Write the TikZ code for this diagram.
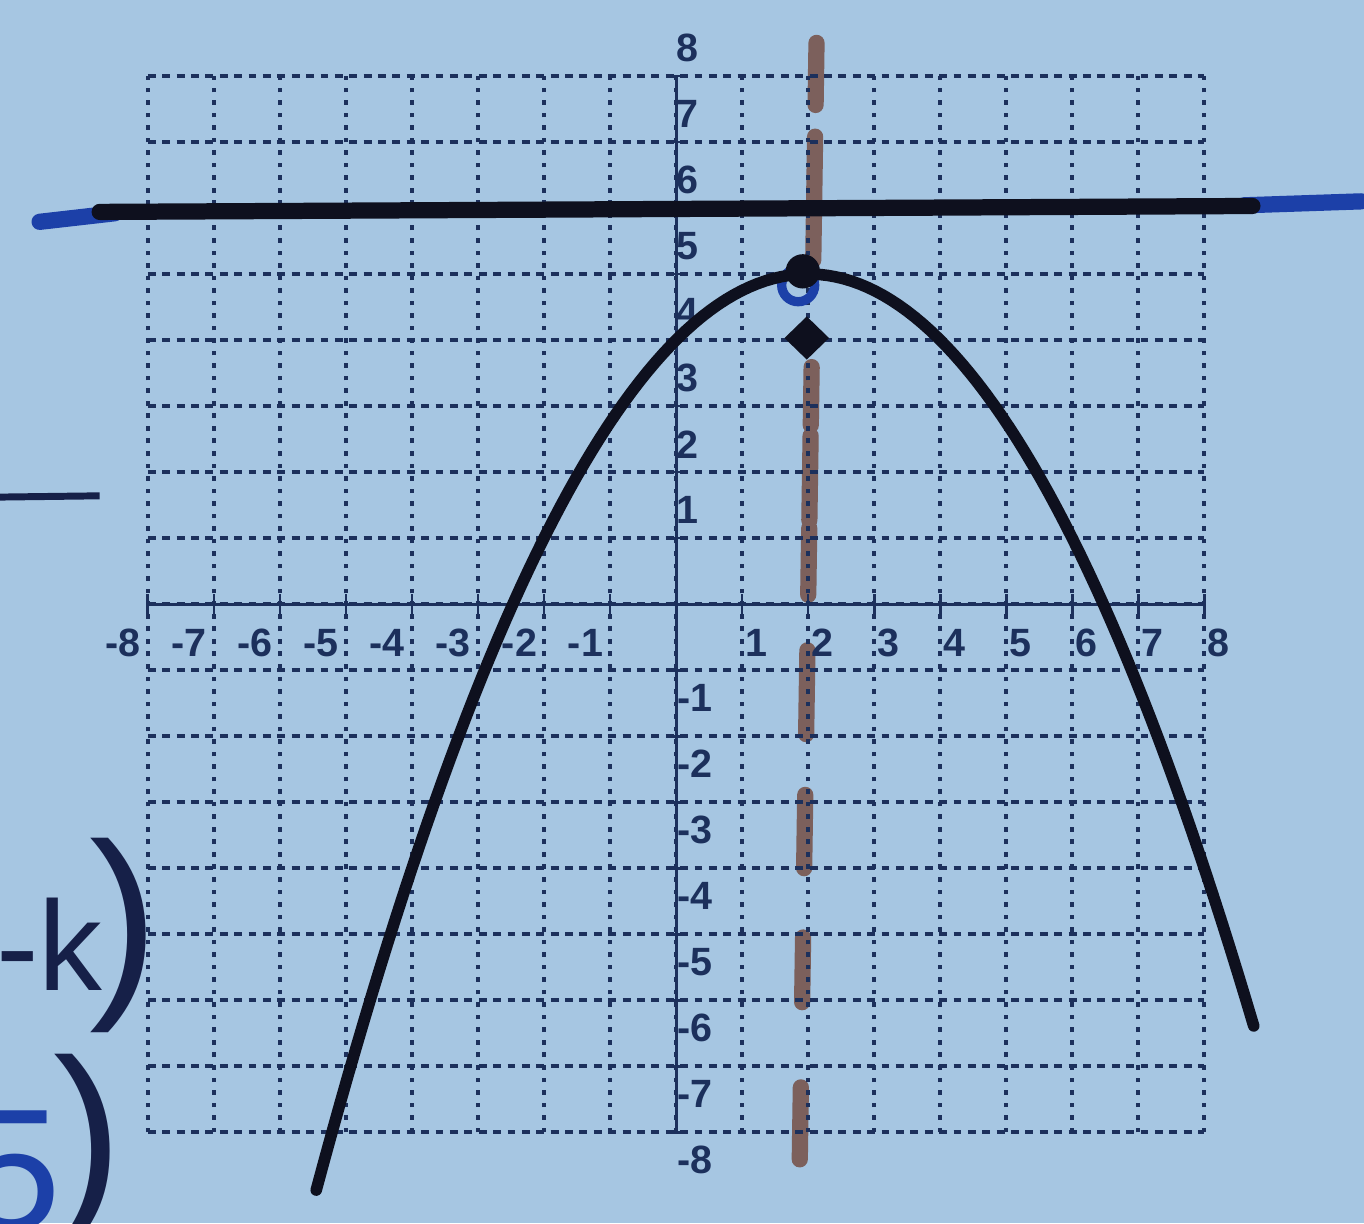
\documentclass[tikz,border=0pt]{standalone}
\usepackage{fontspec}
\setmainfont{Liberation Sans}
\usepackage{xcolor}
\usepackage{tikz}
\usetikzlibrary{shapes.geometric}
\definecolor{paper}{RGB}{166,198,226}
\definecolor{gridnavy}{RGB}{28,48,92}
\definecolor{ink}{RGB}{14,16,30}
\definecolor{penblue}{RGB}{28,64,168}
\definecolor{handnavy}{RGB}{22,32,72}
\definecolor{symbrown}{RGB}{124,96,92}
\tikzset{
  vgrid/.style={draw=gridnavy, line width=1.6pt, dash pattern=on 2pt off 3.4pt},
  hgrid/.style={draw=gridnavy, line width=1.6pt, dash pattern=on 3.4pt off 2.8pt},
  axisln/.style={draw=gridnavy, line width=1.3pt},
  tickln/.style={draw=gridnavy, line width=1.2pt},
  numlbl/.style={font=\fontsize{17}{17}\selectfont\bfseries, text=gridnavy, inner sep=0pt},
  curve/.style={draw=ink, line width=5pt, line cap=round},
  directrix/.style={draw=ink, line width=7pt, line cap=round},
  penline/.style={draw=penblue, line width=7pt, line cap=round},
  symaxis/.style={draw=symbrown, line width=7pt, line cap=round},
  focuspt/.style={diamond, fill=ink, minimum width=6.8mm, minimum height=6.6mm, inner sep=0pt},
  vertexpt/.style={circle, fill=ink, minimum size=5.2mm, inner sep=0pt},
  hand/.style={font=\fontsize{55}{55}\selectfont, text=handnavy, inner sep=0pt},
  handparen/.style={font=\fontsize{90}{90}\selectfont, text=handnavy, inner sep=0pt},
}

\begin{document}
\begin{tikzpicture}
% ---- paper ----
\fill[paper] (-10.24,-9.38) rectangle (10.42,9.15);
\useasboundingbox (-10.24,-9.38) rectangle (10.42,9.15);
% ---- axis of symmetry (pencil dashes) ----
\foreach \ya/\yb in {8.5/7.56, 7.08/5.21, 3.59/2.71, 2.55/1.27, 1.15/0.14,
    -0.7/-1.97, -2.89/-4.0, -5.05/-6.03, -7.32/-8.41}
  \draw[symaxis] ({2+0.015*\ya},\ya) -- ({2+0.015*\yb},\yb);
% ---- grid ----
\foreach \k in {-8,...,8} {
  \draw[vgrid] (\k,-8) -- (\k,8);
  \draw[hgrid] (-8,\k) -- (8,\k);
}
% ---- axes ----
\draw[axisln] (-8,0) -- (8,0);
\draw[axisln] (0,-8) -- (0,8);
\foreach \k in {1,...,8} {
  \draw[tickln] (\k,-0.15) -- (\k,0.15);
  \draw[tickln] (-\k,-0.15) -- (-\k,0.15);
  \draw[tickln] (-0.12,\k) -- (0.12,\k);
  \draw[tickln] (-0.12,-\k) -- (0.12,-\k);
  \node[numlbl, anchor=west] (xpos\k) at (\k+0.05,-0.59) {\k};
  \node[numlbl, anchor=east] (xneg\k) at (-\k-0.1,-0.59) {-\k};
  \node[numlbl, anchor=west] (ypos\k) at (0.0,\k+0.42) {\k};
  \node[numlbl, anchor=west] (yneg\k) at (0.02,-\k-0.42) {-\k};
}
% ---- directrix ----
\draw[penline] (-9.64,5.79) -- (-8.5,5.92);
\draw[penline] (8.6,6.04) -- (10.38,6.1);
\draw[directrix] (-8.73,5.94) -- (8.73,6.03);
% ---- parabola ----
\draw[penblue, line width=4pt] (1.85,4.83) circle (0.25);
\draw[curve] plot[domain=-5.45:8.75, samples=120] (\x,{5-(\x-2)^2/4});
\node[vertexpt] (vertex) at (1.92,5.04) {};
\node[focuspt] (focus) at (1.98,4.03) {};
% ---- margin notes ----
\draw[handnavy, line width=3pt] (-10.3,1.62) -- (-8.73,1.64);
\node[hand, anchor=base west] (kterm) at (-10.3,-5.85) {-k};
\node[handparen] (kparen) at (-8.36,-5.02) {)};
\node[hand, text=penblue, anchor=north east, font=\fontsize{75}{75}\selectfont] (fivenum) at (-9.3,-7.67) {5};
\node[handparen] (fiveparen) at (-8.91,-8.29) {)};
\end{tikzpicture}
\end{document}
